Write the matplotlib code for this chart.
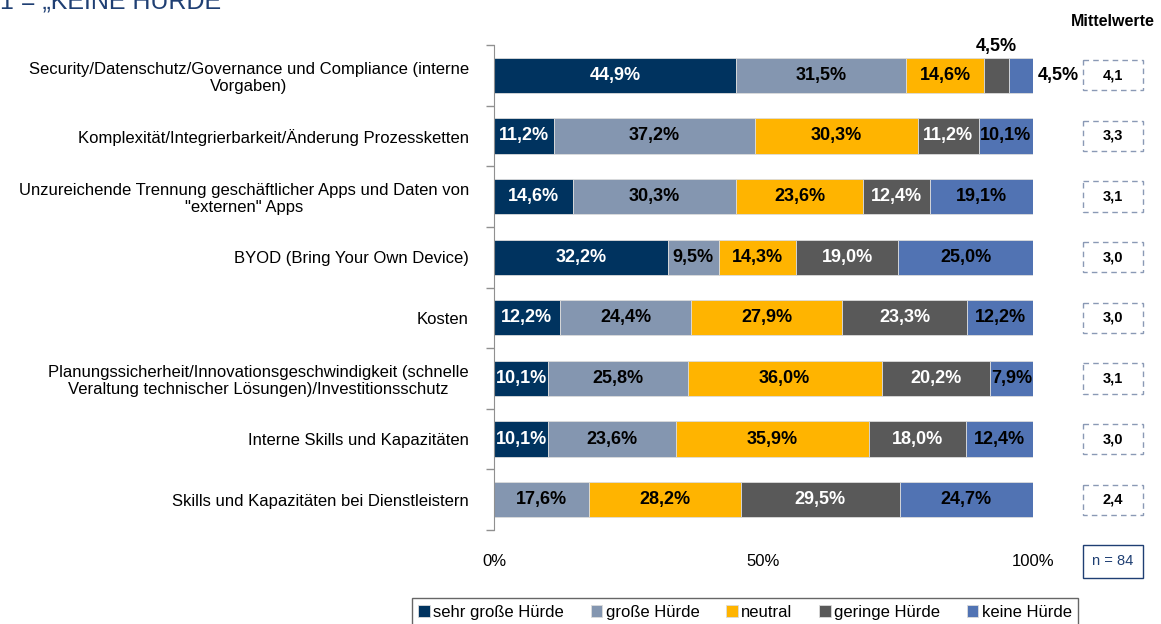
import matplotlib
matplotlib.use("Agg")
import matplotlib.pyplot as plt
from matplotlib.patches import Rectangle
import matplotlib.transforms as mtransforms

plt.rcParams['font.family'] = ['Liberation Sans', 'DejaVu Sans']

# categories from top to bottom
categories = [
    "Security/Datenschutz/Governance und Compliance (interne\nVorgaben)",
    "Komplexität/Integrierbarkeit/Änderung Prozessketten",
    "Unzureichende Trennung geschäftlicher Apps und Daten von\n\"externen\" Apps",
    "BYOD (Bring Your Own Device)",
    "Kosten",
    "Planungssicherheit/Innovationsgeschwindigkeit (schnelle\nVeraltung technischer Lösungen)/Investitionsschutz",
    "Interne Skills und Kapazitäten",
    "Skills und Kapazitäten bei Dienstleistern",
]
series_names = ["sehr große Hürde", "große Hürde", "neutral", "geringe Hürde", "keine Hürde"]
sehr_gross = [44.9, 11.2, 14.6, 32.2, 12.2, 10.1, 10.1, 0.0]
gross = [31.5, 37.2, 30.3, 9.5, 24.4, 25.8, 23.6, 17.6]
neutral = [14.6, 30.3, 23.6, 14.3, 27.9, 36.0, 35.9, 28.2]
gering = [4.5, 11.2, 12.4, 19.0, 23.3, 20.2, 18.0, 29.5]
keine = [4.5, 10.1, 19.1, 25.0, 12.2, 7.9, 12.4, 24.7]
mittelwerte = [4.1, 3.3, 3.1, 3.0, 3.0, 3.1, 3.0, 2.4]
x_ticks = [0, 50, 100]
x_ticklabels = ["0%", "50%", "100%"]

colors = ['#00335f', '#8496b0', '#ffb400', '#595959', '#5173b3']
text_colors = ['white', 'black', 'black', 'white', 'black']

fig = plt.figure(figsize=(11.61, 6.24), dpi=100)
ax = fig.add_axes([494 / 1161, 1 - 530 / 624, 539 / 1161, 485 / 624])

series = [sehr_gross, gross, neutral, gering, keine]
ypos = list(range(len(categories)))
left = [0.0] * len(categories)
bar_h = 0.58
for s, vals in enumerate(series):
    ax.barh(ypos, vals, left=left, height=bar_h, color=colors[s],
            edgecolor='#dcdcdc', linewidth=0.6, label=series_names[s])
    for i, v in enumerate(vals):
        if v <= 0:
            continue
        txt = f"{v:.1f}%".replace('.', ',')
        cx = left[i] + v / 2
        if v < 6:
            # small segments: label outside the bar
            if s == len(series) - 1:
                ax.text(left[i] + v + 0.8, i, txt, ha='left', va='center',
                        fontsize=13, fontweight='bold', color='black', clip_on=False)
            else:
                ax.text(cx, i - bar_h / 2 - 0.05, txt, ha='center', va='bottom',
                        fontsize=13, fontweight='bold', color='black', clip_on=False)
        else:
            ax.text(cx, i, txt, ha='center', va='center', fontsize=13,
                    fontweight='bold', color=text_colors[s])
        left[i] += v

ax.set_xlim(0, 100)
ax.set_ylim(len(categories) - 0.5, -0.5)

# category labels at centres, tick marks at the boundaries
ax.set_yticks([y - 0.5 for y in range(len(categories) + 1)])
ax.set_yticklabels([])
ax.set_yticks(ypos, minor=True)
ax.set_yticklabels(categories, minor=True, fontsize=12, multialignment='center')
ax.tick_params(axis='y', which='major', length=6, color='#909090', width=1)
ax.tick_params(axis='y', which='minor', length=0, pad=18)

ax.set_xticks(x_ticks)
ax.set_xticklabels(x_ticklabels, fontsize=12)
ax.tick_params(axis='x', length=0, pad=17)

for side in ['top', 'right', 'bottom']:
    ax.spines[side].set_visible(False)
ax.spines['left'].set_color('#909090')

# mean value boxes
trans = mtransforms.blended_transform_factory(ax.transAxes, ax.transData)
box_x = (1083 - 494) / 539
box_w = 60 / 539
for i, m in enumerate(mittelwerte):
    ax.add_patch(Rectangle((box_x, i - 0.25), box_w, 0.5, transform=trans,
                           fill=False, edgecolor='#8a99b5', linestyle=(0, (4, 3)),
                           linewidth=1.0, clip_on=False))
    ax.text(box_x + box_w / 2, i, f"{m:.1f}".replace('.', ','), transform=trans,
            ha='center', va='center', fontsize=10.5, fontweight='bold')

fig.text(1113 / 1161, 1 - 22 / 624, "Mittelwerte", ha='center', va='center',
         fontsize=11.5, fontweight='bold')

# sample size box
fig.patches.append(Rectangle((1083 / 1161, 1 - 578 / 624), 60 / 1161, 33 / 624,
                             transform=fig.transFigure, fill=False,
                             edgecolor='#1f3f73', linewidth=1.0))
fig.text(1113 / 1161, 1 - 561 / 624, "n = 84", ha='center', va='center',
         fontsize=10.5, color='#1f3f73')

# heading, cut off at the top edge as in the original slide
fig.text(0.0, 1 - 9 / 624, "1 = „KEINE HÜRDE“", ha='left', va='baseline',
         fontsize=18, color='#1f3f73')

leg = fig.legend(loc='upper center', bbox_to_anchor=(745 / 1161, 1 - 590 / 624),
                 ncol=5, fontsize=12, frameon=True, fancybox=False,
                 edgecolor='#404040', handlelength=0.7, handleheight=0.7,
                 handletextpad=0.2, columnspacing=1.6, borderpad=0.4)
leg.get_frame().set_linewidth(1.0)

fig.savefig("out.png", dpi=100)
